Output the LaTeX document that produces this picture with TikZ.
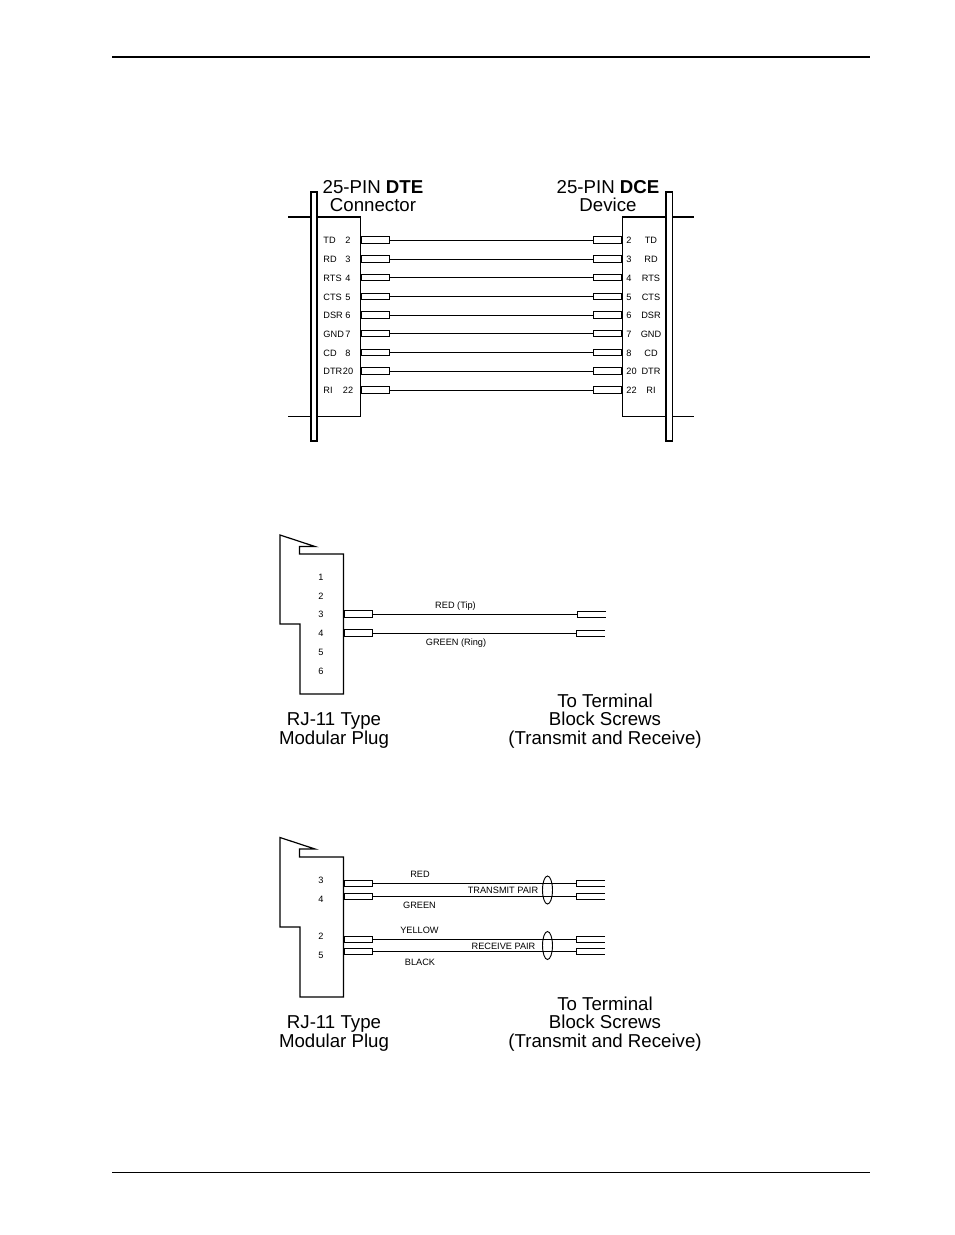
\documentclass[tikz,border=0pt]{standalone}
\usepackage{fontspec}
\setmainfont{Liberation Sans}
\usetikzlibrary{shapes.geometric}
\tikzset{
	stub/.style={draw,inner sep=0pt,minimum width=21pt,minimum height=4.6pt},
	pinlabel/.style={inner sep=0pt,yshift=-.4pt,font=\fontsize{6.9}{8}\selectfont},
	headlabel/.style={inner sep=0pt,align=center,font=\fontsize{14}{13.9}\selectfont},
	pairloop/.style={draw,ellipse,inner sep=0pt,minimum width=7.5pt,minimum height=21pt},
	shell/.style={line width=.9pt,line join=miter},
}
\begin{document}
\begin{tikzpicture}[x=.75pt,y=-.75pt,line width=.7pt]
	\useasboundingbox (0,0) rectangle (954,1235);
	\begin{scope}
		\draw[line width=1.5pt] (112,57) -- (870,57);
		\draw (112,1172.5) -- (870,1172.5);
	\end{scope}
	\begin{scope}
		\node[headlabel] (dtehead) at (373,196) {25-PIN \textbf{DTE}\\Connector};
		\node[headlabel] (dcehead) at (608,196) {25-PIN \textbf{DCE}\\Device};
		\draw[shell,line width=1.2pt]
			(288,217) -- (311,217)
			(317,217) -- (360.5,217)
			(622,217) -- (666,217)
			(672.5,217) -- (694,217)
		;
		\draw
			(360.5,217) -- (360.5,416) -- (317,416)
			(622,217) -- (622,416) -- (666,416)
			(288,416) -- (311,416)
			(672.5,416) -- (694,416)
		;
		\draw[shell] (311,192) rectangle (317,441);
		\draw[shell] (666,192) rectangle (672.5,441);
		\foreach \pinname/\pinnum/\y in {
			TD/2/240,RD/3/259,RTS/4/277.5,CTS/5/296.5,DSR/6/315,
			GND/7/333.5,CD/8/352.5,DTR/20/371,RI/22/390
		}{
			\node[pinlabel,anchor=west] (dtename\pinnum) at (323,\y) {\pinname};
			\node[pinlabel] (dtenum\pinnum) at (348,\y) {\pinnum};
			\node[pinlabel,anchor=west] (dcenum\pinnum) at (626,\y) {\pinnum};
			\node[pinlabel] (dcename\pinnum) at (651,\y) {\pinname};
			\node[stub,anchor=west] (dtepin\pinnum) at (361,\y) {};
			\node[stub,anchor=east] (dcepin\pinnum) at (622,\y) {};
			\draw (dtepin\pinnum) -- (dcepin\pinnum);
		}
	\end{scope}
	\begin{scope}
		\draw[shell]
			(280,535) -- (315,546.5) -- (299.5,546.5) -- (299.5,554) -- (343.5,554)
			-- (343.5,694) -- (300,694) -- (300,624) -- (280,624) -- cycle
		;
		\foreach \pinnum/\y in {1/577,2/596,3/614,4/633,5/652,6/671}
			\node[pinlabel] (tippin\pinnum) at (321,\y) {\pinnum}
		;
		\foreach \nam/\y/\xend in {tip/614/577,ring/633/576}{
			\node[stub,anchor=west] (\nam left) at (344,\y) {};
			\coordinate (\nam right) at (\xend,\y);
			\draw (\xend+29,\y-3) -- (\xend,\y-3) -- (\xend,\y+3) -- (\xend+29,\y+3);
			\draw (\nam left) -- (\nam right);
		}
		\node[pinlabel] (tiplabel) at (455.5,605.8) {RED (Tip)};
		\node[pinlabel] (ringlabel) at (456,642.8) {GREEN (Ring)};
		\node[headlabel] (tipplug) at (334,730.6) {RJ-11 Type\\Modular Plug};
		\node[headlabel] (tipscrews) at (605,721) {To Terminal\\Block Screws\\(Transmit and Receive)};
	\end{scope}
	\begin{scope}
		\draw[shell]
			(280,837.5) -- (315,849) -- (299.5,849) -- (299.5,857) -- (343.5,857)
			-- (343.5,997) -- (300,997) -- (300,927) -- (280,927) -- cycle
		;
		\foreach \pinnum/\y in {3/880,4/899,2/936,5/955}
			\node[pinlabel] (pairpin\pinnum) at (321,\y) {\pinnum}
		;
		\foreach \nam/\y in {red/883.5,green/896.5,yellow/939.5,black/951.5}{
			\node[stub,anchor=west] (\nam left) at (344,\y) {};
			\coordinate (\nam right) at (576.5,\y);
			\draw (605,\y-3) -- (576.5,\y-3) -- (576.5,\y+3) -- (605,\y+3);
			\draw (\nam left) -- (\nam right);
		}
		\node[pairloop] (txloop) at (547.5,890) {};
		\node[pairloop] (rxloop) at (547.5,945.5) {};
		\node[pinlabel] (redlabel) at (420,873.5) {RED};
		\node[pinlabel] (greenlabel) at (419.5,904.5) {GREEN};
		\node[pinlabel] (yellowlabel) at (419.5,929.5) {YELLOW};
		\node[pinlabel] (blacklabel) at (420,961.5) {BLACK};
		\node[pinlabel] (txlabel) at (503,889.5) {TRANSMIT PAIR};
		\node[pinlabel] (rxlabel) at (503.5,945.5) {RECEIVE PAIR};
		\node[headlabel] (pairplug) at (334,1033.6) {RJ-11 Type\\Modular Plug};
		\node[headlabel] (pairscrews) at (605,1024) {To Terminal\\Block Screws\\(Transmit and Receive)};
	\end{scope}
\end{tikzpicture}
\end{document}
